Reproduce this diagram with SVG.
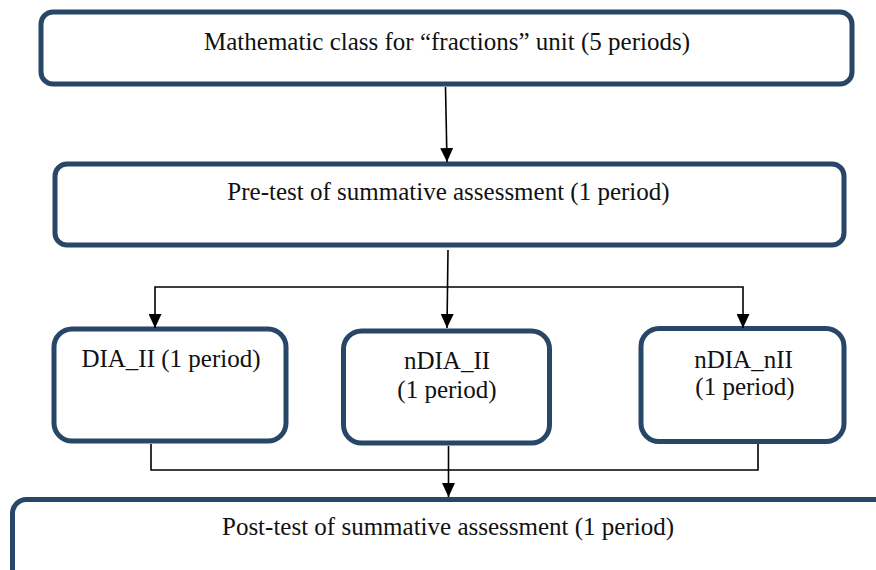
<svg xmlns="http://www.w3.org/2000/svg" width="876" height="570" viewBox="0 0 876 570">
<style>
.box{fill:#ffffff;stroke:#284668;stroke-width:5}
.lbl{font-family:"Liberation Serif","Times New Roman",serif;font-size:25px;fill:#111111;text-anchor:middle}
.con{fill:none;stroke:#000000;stroke-width:1.6}
</style>
<defs>
<marker id="ah" markerUnits="userSpaceOnUse" markerWidth="14" markerHeight="13" refX="14" refY="6.5" orient="auto">
<path d="M0,0 L14,6.5 L0,13 z" fill="#000000"/>
</marker>
</defs>
<rect width="876" height="570" fill="#ffffff"/>
<g id="n1"><rect class="box" x="41" y="12" width="811" height="72" rx="12"/><text class="lbl" x="447" y="50">Mathematic class for “fractions” unit (5 periods)</text></g>
<g id="n2"><rect class="box" x="55" y="164" width="789" height="81" rx="12"/><text class="lbl" x="448.5" y="200">Pre-test of summative assessment (1 period)</text></g>
<g id="n3"><rect class="box" x="54" y="329" width="232" height="112" rx="18"/><text class="lbl" x="171" y="367">DIA_II (1 period)</text></g>
<g id="n4"><rect class="box" x="343.5" y="331" width="206" height="112" rx="18"/><text class="lbl" x="447" y="369">nDIA_II</text><text class="lbl" x="447" y="398">(1 period)</text></g>
<g id="n5"><rect class="box" x="641" y="328.5" width="203" height="113" rx="18"/><text class="lbl" x="743.5" y="368">nDIA_nII</text><text class="lbl" x="745" y="395">(1 period)</text></g>
<g id="n6"><rect class="box" x="12.5" y="499.5" width="900" height="110" rx="14"/><text class="lbl" x="448" y="535">Post-test of summative assessment (1 period)</text></g>
<g id="connectors">
<path class="con" d="M445.5,87 L447,162" marker-end="url(#ah)"/>
<path class="con" d="M448,250 L447,328" marker-end="url(#ah)"/>
<path class="con" d="M447.5,287 L155,287 L155,328" marker-end="url(#ah)"/>
<path class="con" d="M447.5,287 L743,287 L743,328" marker-end="url(#ah)"/>
<path class="con" d="M151,444 L151,470 L758,470 L758,444"/>
<path class="con" d="M448.5,446 L448.5,497" marker-end="url(#ah)"/>
</g>
</svg>
